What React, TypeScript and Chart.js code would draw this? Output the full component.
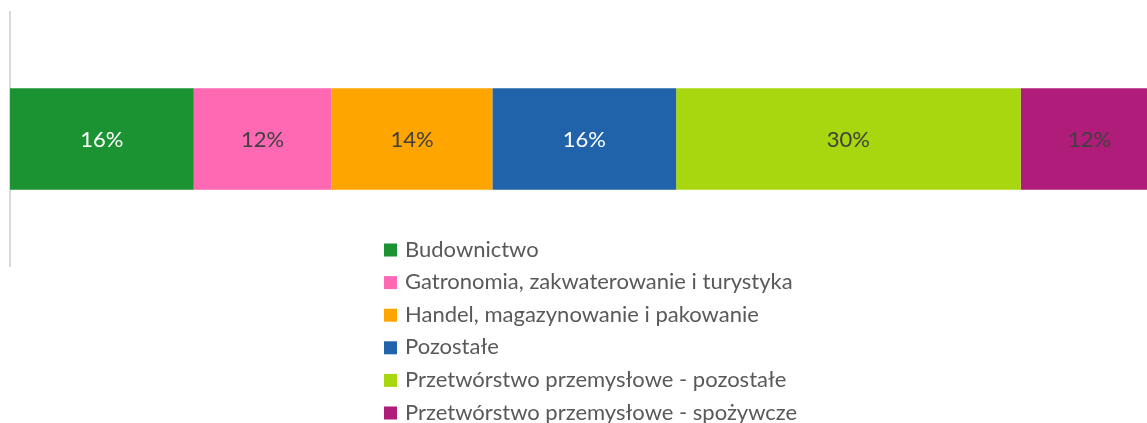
import React, { useEffect, useRef } from "react";
import { Chart, registerables } from "chart.js";

Chart.register(...registerables);

const categories = [""];
const seriesNames = [
  "Budownictwo",
  "Gatronomia, zakwaterowanie i turystyka",
  "Handel, magazynowanie i pakowanie",
  "Pozostałe",
  "Przetwórstwo przemysłowe - pozostałe",
  "Przetwórstwo przemysłowe - spożywcze",
];
const seriesValues = [16, 12, 14, 16, 30, 12];
const seriesColors = ["#1C9332", "#FF69B4", "#FFA500", "#2063AA", "#A8D60F", "#B01C7A"];
const labelColors = ["#FFFFFF", "#404040", "#404040", "#FFFFFF", "#404040", "#404040"];

const FONT = "Lato, 'Open Sans', sans-serif";

// Percent labels centred on each stacked segment
const segmentLabels = {
  id: "segmentLabels",
  afterDatasetsDraw(chart: any) {
    const ctx = chart.ctx;
    ctx.save();
    ctx.font = `22px ${FONT}`;
    ctx.textAlign = "center";
    ctx.textBaseline = "alphabetic";
    chart.data.datasets.forEach((ds: any, i: number) => {
      const meta = chart.getDatasetMeta(i);
      meta.data.forEach((el: any, j: number) => {
        const p = el.getCenterPoint();
        ctx.fillStyle = labelColors[i];
        ctx.fillText(`${ds.data[j]}%`, p.x, p.y + 8);
      });
    });
    ctx.restore();
  },
};

// Vertical legend list under the bar
const listLegend = {
  id: "listLegend",
  afterDraw(chart: any) {
    const ctx = chart.ctx;
    ctx.save();
    ctx.font = `22px ${FONT}`;
    ctx.textBaseline = "alphabetic";
    ctx.textAlign = "left";
    const x0 = 384;
    const y0 = 250;
    const step = 32.6;
    chart.data.datasets.forEach((ds: any, i: number) => {
      const y = y0 + i * step;
      ctx.fillStyle = ds.backgroundColor;
      ctx.fillRect(x0, y - 6.5, 13, 13);
      ctx.fillStyle = "#595959";
      ctx.fillText(ds.label, x0 + 21, y + 6.5);
    });
    ctx.restore();
  },
};

export default function App() {
  const ref = useRef<HTMLCanvasElement>(null);

  useEffect(() => {
    if (!ref.current) return;
    const chart = new Chart(ref.current, {
      type: "bar",
      data: {
        labels: categories,
        datasets: seriesNames.map((name, i) => ({
          label: name,
          data: [seriesValues[i]],
          backgroundColor: seriesColors[i],
          borderWidth: 0,
          barPercentage: 0.4,
          categoryPercentage: 1,
        })),
      },
      options: {
        indexAxis: "y",
        responsive: false,
        animation: false,
        layout: { padding: { left: 2, top: 12, bottom: 157, right: 0 } },
        plugins: {
          legend: { display: false },
          tooltip: { enabled: false },
        },
        scales: {
          x: { stacked: true, display: false, min: 0, max: 99 },
          y: {
            stacked: true,
            ticks: { display: false },
            grid: { display: false },
            border: { display: true, color: "#D9D9D9", width: 2 },
          },
        },
      },
      plugins: [segmentLabels, listLegend],
    });
    return () => chart.destroy();
  }, []);

  return (
    <div style={{ position: "absolute", left: 0, top: 0, width: 1147, height: 423, overflow: "hidden" }}>
      <canvas ref={ref} width={1147} height={423} />
    </div>
  );
}
